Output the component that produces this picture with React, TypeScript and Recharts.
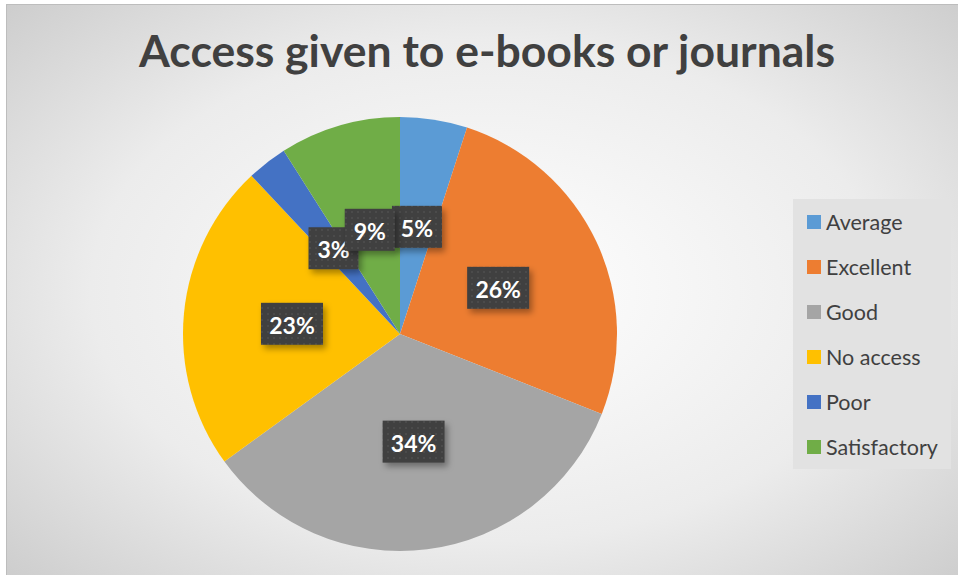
import React from 'react';
import {PieChart, Pie, Cell, Legend} from "recharts";

const categories = ["Average", "Excellent", "Good", "No access", "Poor", "Satisfactory"];
const shares = [5, 26, 34, 23, 3, 9];
const colors = ["#5B9BD5", "#ED7D31", "#A5A5A5", "#FFC000", "#4472C4", "#70AD47"];

const data = categories.map((name, i) => ({name, value: shares[i]}));

const RAD = Math.PI / 180;

const renderLabel = (props: any) => {
    const {cx, cy, midAngle, outerRadius, value, index} = props;
    const r = outerRadius * 0.5;
    const x = cx + r * Math.cos(-midAngle * RAD);
    const y = cy + r * Math.sin(-midAngle * RAD);
    const text = `${value}%`;
    const w = text.length > 2 ? 62 : 50;
    const h = 42;
    const pid = `dots${index}`;
    const fid = `shadow${index}`;
    return <g>
        <defs>
            <pattern id={pid} width="6" height="6" patternUnits="userSpaceOnUse">
                <rect width="6" height="6" fill="#3f3f3f"/>
                <rect x="2" y="2" width="2" height="2" fill="#4c4c4c"/>
            </pattern>
            <filter id={fid} x="-30%" y="-30%" width="160%" height="160%">
                <feDropShadow dx="3" dy="4" stdDeviation="3" floodColor="#000" floodOpacity="0.35"/>
            </filter>
        </defs>
        <rect x={x - w / 2} y={y - h / 2} width={w} height={h} fill={`url(#${pid})`} filter={`url(#${fid})`}/>
        <text x={x} y={y + 1} fill="#fff" fontSize={23} fontWeight={700} fontFamily="Lato, sans-serif"
              textAnchor="middle" dominantBaseline="central">{text}</text>
    </g>;
};

const LegendBox = () => (
    <div style={{
        background: "#e2e2e2", width: 158, height: 270, boxSizing: "border-box",
        fontFamily: "Lato, sans-serif", fontSize: 21.5, color: "#404040"
    }}>
        {categories.map((c, i) => (
            <div key={c} style={{display: "flex", alignItems: "center", height: 45, paddingLeft: 14}}>
                <span style={{width: 14, height: 14, background: colors[i], marginRight: 5}}/>
                <span>{c}</span>
            </div>
        ))}
    </div>
);

export default function App() {
    return <div style={{
        position: "absolute", left: 6, top: 4, width: 960, height: 570, overflow: "hidden",
        borderTop: "1px solid #bdbdbd", borderLeft: "1px solid #bdbdbd",
        background: "radial-gradient(ellipse 75% 80% at 50% 50%, #ffffff 0%, #ececec 55%, #c6c6c6 100%)"
    }}>
        <div style={{
            position: "absolute", top: 18, left: 0, width: 960, textAlign: "center",
            fontFamily: "Lato, sans-serif", fontWeight: 700, fontSize: 44.5, color: "#404040"
        }}>Access given to e-books or journals</div>
        <PieChart width={960} height={570}>
            <Pie data={data} dataKey="value" nameKey="name" cx={388} cy={324} outerRadius={217}
                 startAngle={90} endAngle={-270} stroke="none" label={renderLabel} labelLine={false}
                 isAnimationActive={false}>
                {data.map((d, i) => <Cell key={d.name} fill={colors[i]}/>)}
            </Pie>
            <Legend layout="vertical" align="right" verticalAlign="top"
                    wrapperStyle={{left: 786, top: 194, width: 158}} content={() => <LegendBox/>}/>
        </PieChart>
    </div>;
}
